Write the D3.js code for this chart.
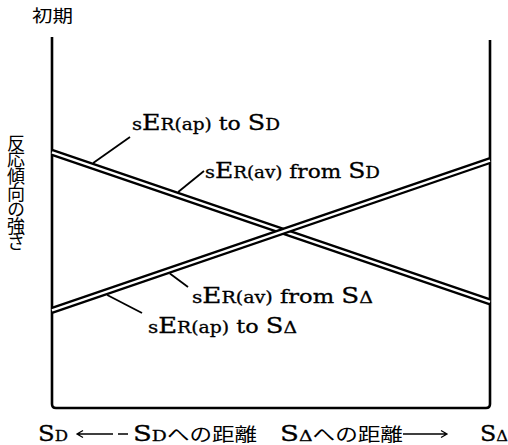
<!DOCTYPE html>
<html><head><meta charset="utf-8">
<script src="https://cdn.jsdelivr.net/npm/d3@7"></script>
<style>body{margin:0;background:#fff}svg{display:block}</style>
</head><body><svg id="c" width="508" height="445"></svg>
<script>
// ---- data ----
const distance = [0, 1];                 // 0 = S_D, 1 = S_Δ
const toSD = [68.9, 28.6];               // sE_R(ap) to S_D / sE_R(av) from S_D
const toSDelta = [26.3, 66.7];           // sE_R(ap) to S_Δ / sE_R(av) from S_Δ
const yTitle = "初期";
const yLabel = "反応傾向の強さ";
const seriesLabels = [
  {series: 0, parts: [["s","s"],["E","b"],["R(ap)","m"],[" to ","t"],["S","b"],["D","m"]]},
  {series: 0, parts: [["s","s"],["E","b"],["R(av)","m"],[" from ","t"],["S","b"],["D","m"]]},
  {series: 1, parts: [["s","s"],["E","b"],["R(av)","m"],[" from ","t"],["S","b"],["Δ","m"]]},
  {series: 1, parts: [["s","s"],["E","b"],["R(ap)","m"],[" to ","t"],["S","b"],["Δ","m"]]}
];

// ---- layout ----
const svg = d3.select("#c");
const x = d3.scaleLinear().domain([0,1]).range([52,490]);
const y = d3.scaleLinear().domain([0,100]).range([408,37]);
const serif = "'DejaVu Serif', 'Liberation Serif', serif";
const jp = "'Noto Sans CJK JP', sans-serif";
const sizes = {s:17, b:22, m:16, t:19};

const series = [toSD, toSDelta].map(v => distance.map((d,i)=>[d, v[i]]));
const line = d3.line().x(d=>x(d[0])).y(d=>y(d[1]));

// frame
const x0 = x(0), x1 = x(1), yb = y(0), r = 4;
svg.append("path")
  .attr("d", `M${x0},${y(100)} V${yb-r} Q${x0},${yb} ${x0+r},${yb} H${x1-r} Q${x1},${yb} ${x1},${yb-r} V${y(99.2)}`)
  .attr("fill","none").attr("stroke","#000").attr("stroke-width",2.6);

// double lines
series.forEach(s => {
  svg.append("path").attr("d", line(s)).attr("fill","none").attr("stroke","#000").attr("stroke-width",7);
  svg.append("path").attr("d", line(s)).attr("fill","none").attr("stroke","#fff").attr("stroke-width",2.4);
});

// annotations (layout only)
const annLayout = [
  {t:0.094, side:-1, ex:130, ey:137, lx:132, ly:130, w:148},
  {t:0.288, side:-1, ex:204, ey:171, lx:205, ly:178, w:175},
  {t:0.269, side: 1, ex:188, ey:287, lx:192, ly:303, w:181},
  {t:0.126, side: 1, ex:142, ey:313, lx:148, ly:333, w:149}
];
seriesLabels.forEach((lab,i) => {
  const L = annLayout[i];
  const s = series[lab.series];
  const v = s[0][1] + (s[1][1]-s[0][1])*L.t;
  const px = x(L.t), py = y(v) + L.side*3.4;
  svg.append("line").attr("x1",px).attr("y1",py).attr("x2",L.ex).attr("y2",L.ey)
    .attr("stroke","#000").attr("stroke-width",1.8);
  const t = svg.append("text").attr("x",L.lx).attr("y",L.ly)
    .attr("font-family",serif).attr("fill","#000")
    .attr("stroke","#000").attr("stroke-width",0.3)
    .attr("textLength",L.w).attr("lengthAdjust","spacingAndGlyphs");
  lab.parts.forEach(p => t.append("tspan").attr("font-size",sizes[p[1]]).text(p[0]));
});

// y title and label
svg.append("text").attr("x",32).attr("y",22).attr("font-family",jp).attr("font-size",17)
  .attr("textLength",41).attr("lengthAdjust","spacingAndGlyphs").text(yTitle);
svg.append("text").attr("x",16).attr("y",134).attr("font-family",jp).attr("font-size",18)
  .style("writing-mode","vertical-rl").style("letter-spacing","-1.4px").text(yLabel);

// x labels
const by = 441;
function sLabel(xp, sub, w){
  const t = svg.append("text").attr("x",xp).attr("y",by).attr("font-family",serif)
    .attr("stroke","#000").attr("stroke-width",0.3)
    .attr("textLength",w).attr("lengthAdjust","spacingAndGlyphs");
  t.append("tspan").attr("font-size",22).text("S");
  t.append("tspan").attr("font-size",15).text(sub);
  return t;
}
sLabel(38,"D",30);
sLabel(480,"Δ",28);
// left distance label
const tl = svg.append("text").attr("x",133).attr("y",by).attr("font-family",serif)
  .attr("textLength",124).attr("lengthAdjust","spacingAndGlyphs");
tl.append("tspan").attr("font-size",22).attr("stroke","#000").attr("stroke-width",0.3).text("S");
tl.append("tspan").attr("font-size",15).attr("stroke","#000").attr("stroke-width",0.3).text("D");
tl.append("tspan").attr("font-size",18).attr("font-family",jp).text("への距離");
const tr = svg.append("text").attr("x",280).attr("y",by).attr("font-family",serif)
  .attr("textLength",123).attr("lengthAdjust","spacingAndGlyphs");
tr.append("tspan").attr("font-size",22).attr("stroke","#000").attr("stroke-width",0.3).text("S");
tr.append("tspan").attr("font-size",15).attr("stroke","#000").attr("stroke-width",0.3).text("Δ");
tr.append("tspan").attr("font-size",18).attr("font-family",jp).text("への距離");
// arrows
const ay = 434;
svg.append("path").attr("d",`M77,${ay} H113 M118,${ay} H128 M83,${ay-3.5} L77,${ay} L83,${ay+3.5}`)
  .attr("fill","none").attr("stroke","#000").attr("stroke-width",1.3);
svg.append("path").attr("d",`M403,${ay} H447 M441,${ay-3.5} L447,${ay} L441,${ay+3.5}`)
  .attr("fill","none").attr("stroke","#000").attr("stroke-width",1.3);
</script></body></html>
